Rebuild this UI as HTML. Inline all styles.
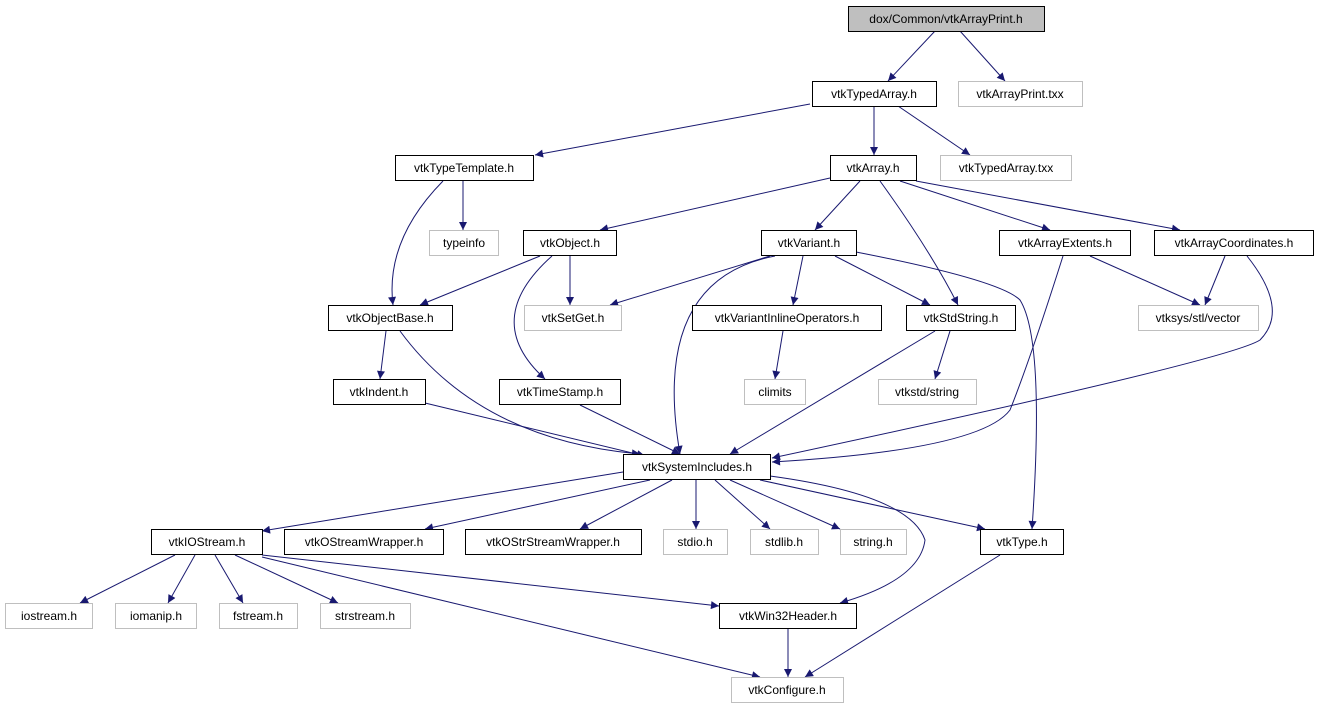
<!DOCTYPE html>
<html><head><meta charset="utf-8"><style>
html,body{margin:0;padding:0;background:#fff;}
svg text{font-family:"Liberation Sans",Helvetica,sans-serif;font-size:12px;fill:#000;}
</style></head><body>
<svg width="1317" height="709" viewBox="0 0 1317 709" xmlns="http://www.w3.org/2000/svg">
<defs><marker id="a" viewBox="0 0 10 10" refX="10" refY="5" markerWidth="10" markerHeight="8" markerUnits="userSpaceOnUse" orient="auto"><path d="M0,0L10,5L0,10z" fill="#191970"/></marker></defs>
<g fill="none" stroke="#191970" stroke-width="1" marker-end="url(#a)">
<path d="M935,31L888,81"/>
<path d="M960,31L1005,81"/>
<path d="M810,104L535,155"/>
<path d="M874,106L874,155"/>
<path d="M898,106L970,155"/>
<path d="M463,181L463,230"/>
<path d="M443,181Q385,240 393,305"/>
<path d="M830,178L600,230"/>
<path d="M860,181L815,230"/>
<path d="M880,181Q930,250 958,305"/>
<path d="M900,181L1050,230"/>
<path d="M916,181L1180,230"/>
<path d="M540,256L420,305"/>
<path d="M570,256L570,305"/>
<path d="M552,256Q480,320 545,379"/>
<path d="M775,256Q650,280 680,454"/>
<path d="M770,256L610,305"/>
<path d="M803,256L793,305"/>
<path d="M835,256L930,305"/>
<path d="M856,252Q1000,280 1020,300Q1045,340 1032,529"/>
<path d="M1090,256L1200,305"/>
<path d="M1063,256Q1030,360 1010,410Q980,450 772,462"/>
<path d="M1225,256L1205,305"/>
<path d="M1247,256Q1290,310 1260,340Q1230,360 772,458"/>
<path d="M386,331L380,379"/>
<path d="M400,331Q480,440 640,454"/>
<path d="M783,331L775,379"/>
<path d="M950,331L935,379"/>
<path d="M935,331L730,454"/>
<path d="M425,403L645,456"/>
<path d="M580,405L680,454"/>
<path d="M623,472L262,531"/>
<path d="M650,480L425,529"/>
<path d="M672,480L580,529"/>
<path d="M696,480L696,529"/>
<path d="M715,480L770,529"/>
<path d="M730,480L840,529"/>
<path d="M760,480L985,529"/>
<path d="M770,476Q910,495 925,540Q920,580 840,603"/>
<path d="M175,555L80,603"/>
<path d="M195,555L168,603"/>
<path d="M215,555L243,603"/>
<path d="M235,555L338,603"/>
<path d="M262,555L719,606"/>
<path d="M262,557L760,677"/>
<path d="M788,629L788,677"/>
<path d="M1000,555L805,677"/>
</g>
<g stroke-width="1">
<rect x="848.5" y="6.5" width="196" height="25" fill="#bfbfbf" stroke="#000"/>
<g fill="#fff" stroke="#000">
<rect x="812.5" y="81.5" width="124" height="25"/>
<rect x="395.5" y="155.5" width="138" height="25"/>
<rect x="830.5" y="155.5" width="86" height="25"/>
<rect x="523.5" y="230.5" width="93" height="25"/>
<rect x="761.5" y="230.5" width="95" height="25"/>
<rect x="999.5" y="230.5" width="131" height="25"/>
<rect x="1154.5" y="230.5" width="159" height="25"/>
<rect x="328.5" y="305.5" width="124" height="25"/>
<rect x="692.5" y="305.5" width="189" height="25"/>
<rect x="906.5" y="305.5" width="109" height="25"/>
<rect x="333.5" y="379.5" width="92" height="25"/>
<rect x="499.5" y="379.5" width="121" height="25"/>
<rect x="623.5" y="454.5" width="147" height="25"/>
<rect x="151.5" y="529.5" width="111" height="25"/>
<rect x="284.5" y="529.5" width="159" height="25"/>
<rect x="465.5" y="529.5" width="176" height="25"/>
<rect x="980.5" y="529.5" width="83" height="25"/>
<rect x="719.5" y="603.5" width="137" height="25"/>
</g>
<g fill="#fff" stroke="#bfbfbf">
<rect x="958.5" y="81.5" width="124" height="25"/>
<rect x="940.5" y="155.5" width="131" height="25"/>
<rect x="429.5" y="230.5" width="69" height="25"/>
<rect x="524.5" y="305.5" width="97" height="25"/>
<rect x="1138.5" y="305.5" width="120" height="25"/>
<rect x="744.5" y="379.5" width="61" height="25"/>
<rect x="878.5" y="379.5" width="98" height="25"/>
<rect x="663.5" y="529.5" width="64" height="25"/>
<rect x="750.5" y="529.5" width="68" height="25"/>
<rect x="840.5" y="529.5" width="66" height="25"/>
<rect x="5.5" y="603.5" width="87" height="25"/>
<rect x="115.5" y="603.5" width="81" height="25"/>
<rect x="219.5" y="603.5" width="78" height="25"/>
<rect x="320.5" y="603.5" width="90" height="25"/>
<rect x="731.5" y="677.5" width="112" height="25"/>
</g>
</g>
<g text-anchor="middle">
<text x="946" y="23">dox/Common/vtkArrayPrint.h</text>
<text x="874" y="98">vtkTypedArray.h</text>
<text x="1020" y="98">vtkArrayPrint.txx</text>
<text x="464" y="172">vtkTypeTemplate.h</text>
<text x="873" y="172">vtkArray.h</text>
<text x="1006" y="172">vtkTypedArray.txx</text>
<text x="464" y="247">typeinfo</text>
<text x="570" y="247">vtkObject.h</text>
<text x="809" y="247">vtkVariant.h</text>
<text x="1065" y="247">vtkArrayExtents.h</text>
<text x="1234" y="247">vtkArrayCoordinates.h</text>
<text x="390" y="322">vtkObjectBase.h</text>
<text x="573" y="322">vtkSetGet.h</text>
<text x="787" y="322">vtkVariantInlineOperators.h</text>
<text x="961" y="322">vtkStdString.h</text>
<text x="1198" y="322">vtksys/stl/vector</text>
<text x="379" y="396">vtkIndent.h</text>
<text x="560" y="396">vtkTimeStamp.h</text>
<text x="775" y="396">climits</text>
<text x="927" y="396">vtkstd/string</text>
<text x="697" y="471">vtkSystemIncludes.h</text>
<text x="207" y="546">vtkIOStream.h</text>
<text x="364" y="546">vtkOStreamWrapper.h</text>
<text x="553" y="546">vtkOStrStreamWrapper.h</text>
<text x="695" y="546">stdio.h</text>
<text x="784" y="546">stdlib.h</text>
<text x="873" y="546">string.h</text>
<text x="1022" y="546">vtkType.h</text>
<text x="49" y="620">iostream.h</text>
<text x="156" y="620">iomanip.h</text>
<text x="258" y="620">fstream.h</text>
<text x="365" y="620">strstream.h</text>
<text x="788" y="620">vtkWin32Header.h</text>
<text x="787" y="694">vtkConfigure.h</text>
</g>
</svg>
</body></html>
